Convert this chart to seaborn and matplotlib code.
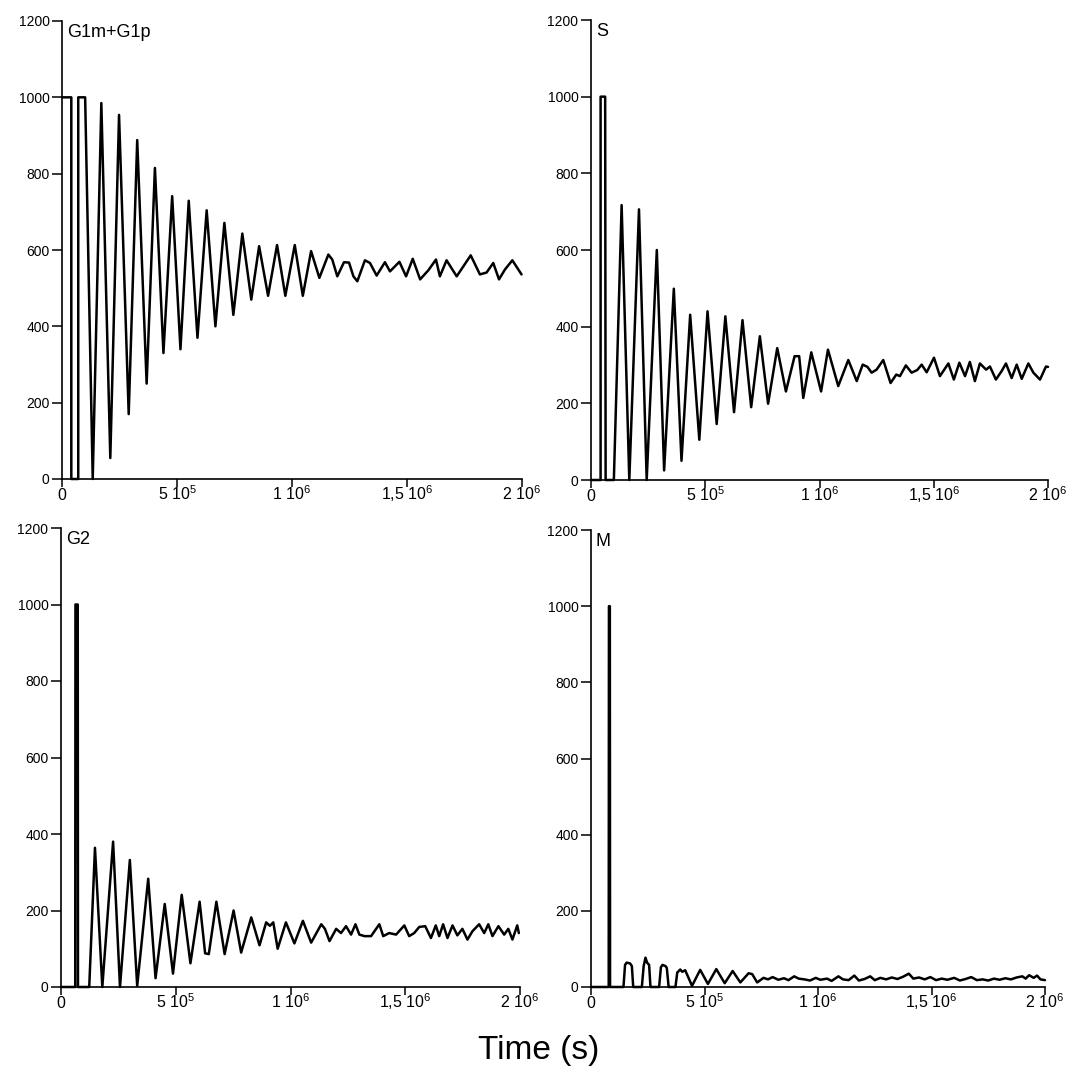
import matplotlib
matplotlib.use("Agg")
import matplotlib.pyplot as plt
import pandas as pd
import seaborn as sns

# ---- cell counts per phase over time (s) ----
g1_time = [0, 40500, 40500, 70600, 70600, 100600, 133600, 171000, 210000, 248000,
           290000, 327000, 368000, 404000, 441000, 479000, 515000, 551000, 589000,
           629000, 667000, 706000, 745000, 784000, 823000, 857000, 896000, 935000,
           971000, 1012000, 1047000, 1083000, 1119000, 1158000, 1175000, 1197000,
           1226000, 1248000, 1267000, 1284000, 1317000, 1339000, 1368000, 1404000,
           1426000, 1467000, 1496000, 1525000, 1557000, 1593000, 1626000, 1643000,
           1672000, 1716000, 1777000, 1817000, 1846000, 1875000, 1900000, 1926000,
           1958000, 1998000]
g1_value = [1000, 1000, 0, 0, 1000, 1000, 0, 985, 55, 954,
            170, 888, 250, 815, 330, 741, 340, 729, 370,
            704, 400, 671, 430, 643, 470, 610, 480, 613,
            480, 613, 480, 597, 527, 588, 575, 531,
            568, 567, 531, 518, 573, 566, 533, 568,
            544, 569, 531, 577, 523, 547, 575, 531,
            573, 531, 586, 536, 541, 566, 523, 549,
            573, 536]

s_time = [0, 42000, 42000, 62000, 64000, 100000, 134000, 167600, 210000, 243700,
          288000, 320000, 362500, 396000, 434000, 474000, 510000, 550000, 588000,
          626000, 663000, 701000, 739000, 775000, 815000, 853000, 891000, 911000,
          929000, 964000, 1007000, 1037000, 1082000, 1126000, 1163000, 1189000,
          1210000, 1228000, 1250000, 1279000, 1311000, 1336000, 1352000, 1378000,
          1403000, 1428000, 1447000, 1469000, 1501000, 1527000, 1564000, 1588000,
          1612000, 1637000, 1658000, 1680000, 1702000, 1729000, 1746000, 1772000,
          1797000, 1816000, 1841000, 1863000, 1885000, 1914000, 1936000, 1965000,
          1991000, 2000000]
s_value = [0, 0, 1000, 1000, 0, 0, 717, 0, 706, 0,
           600, 25, 499, 50, 431, 105, 440, 146, 427,
           177, 417, 190, 375, 199, 344, 231, 323, 323,
           214, 333, 231, 340, 245, 313, 258, 301,
           295, 280, 288, 313, 253, 275, 271, 299,
           280, 287, 301, 281, 319, 271, 304, 262,
           306, 271, 308, 258, 304, 288, 296, 262,
           284, 304, 266, 301, 264, 304, 280, 262,
           296, 295]

g2_time = [0, 62000, 63000, 73000, 74000, 123000, 148000, 180000, 227000,
           257000, 300000, 332000, 380000, 412000, 452000, 488000, 526000, 564000,
           604000, 628000, 644000, 677000, 713000, 752000, 785000, 829000, 865000,
           894000, 910000, 925000, 944000, 980000, 1017000, 1054000, 1090000,
           1134000, 1150000, 1170000, 1199000, 1220000, 1242000, 1264000, 1283000,
           1300000, 1322000, 1351000, 1387000, 1404000, 1430000, 1460000, 1496000,
           1517000, 1539000, 1561000, 1587000, 1612000, 1633000, 1648000, 1665000,
           1684000, 1706000, 1727000, 1749000, 1771000, 1793000, 1822000, 1844000,
           1862000, 1880000, 1906000, 1931000, 1949000, 1967000, 1988000, 1995000]
g2_value = [0, 0, 1000, 1000, 0, 0, 364, 0, 380,
            0, 332, 3, 283, 23, 217, 35, 241, 62,
            223, 88, 86, 223, 86, 200, 90, 182, 109,
            169, 160, 169, 100, 169, 114, 173, 116,
            164, 152, 120, 152, 141, 159, 137, 164,
            137, 133, 133, 164, 133, 141, 137, 161,
            133, 141, 157, 159, 128, 161, 133, 164,
            128, 161, 135, 152, 124, 146, 164, 141,
            164, 133, 159, 137, 152, 124, 161, 141]

m_time = [0, 78000, 79000, 83000, 84000, 143000, 150000, 157000, 172000, 180000,
          186000, 224000, 232000, 240000, 247000, 256000, 262000, 300000, 308000,
          315000, 328000, 334000, 342000, 372000, 380000, 393000, 402000, 415000,
          445000, 481000, 515000, 552000, 589000, 624000, 658000, 694000, 710000,
          732000, 760000, 780000, 800000, 825000, 850000, 870000, 895000, 915000,
          940000, 965000, 990000, 1010000, 1040000, 1060000, 1090000, 1110000,
          1135000, 1160000, 1180000, 1205000, 1230000, 1250000, 1275000, 1300000,
          1325000, 1350000, 1375000, 1400000, 1420000, 1445000, 1470000, 1495000,
          1520000, 1545000, 1570000, 1600000, 1625000, 1650000, 1675000, 1700000,
          1725000, 1750000, 1775000, 1800000, 1825000, 1850000, 1875000, 1900000,
          1915000, 1930000, 1950000, 1965000, 1980000, 2000000]
m_value = [0, 0, 1000, 1000, 0, 0, 58, 64, 62, 55,
           0, 0, 55, 77, 64, 58, 0, 0, 52,
           58, 55, 50, 0, 0, 38, 46, 40, 44,
           3, 45, 8, 47, 10, 42, 12, 36, 34,
           12, 24, 20, 26, 19, 23, 18, 28, 22,
           20, 17, 24, 19, 22, 16, 28, 20,
           18, 30, 17, 21, 28, 18, 24, 20,
           25, 21, 27, 35, 22, 25, 20, 26,
           18, 22, 19, 24, 17, 21, 26, 18,
           20, 17, 22, 19, 23, 20, 25, 28,
           22, 31, 24, 30, 20, 18]

panel_names = ["G1m+G1p", "S", "G2", "M"]
panel_series = [(g1_time, g1_value), (s_time, s_value),
                (g2_time, g2_value), (m_time, m_value)]

y_ticks = [0, 200, 400, 600, 800, 1000, 1200]
x_ticks = [0, 5e5, 1e6, 1.5e6, 2e6]
x_tick_labels = ["0", r"5 $10^5$", r"1 $10^6$", r"1,5 $10^6$", r"2 $10^6$"]

# ---- style ----
sns.set_style("ticks")
plt.rcParams["font.family"] = ["Liberation Sans", "DejaVu Sans"]
plt.rcParams["text.color"] = "black"
plt.rcParams["mathtext.fontset"] = "custom"
plt.rcParams["mathtext.rm"] = "Liberation Sans"
plt.rcParams["mathtext.it"] = "Liberation Sans:italic"
plt.rcParams["mathtext.bf"] = "Liberation Sans:bold"
plt.rcParams["mathtext.default"] = "regular"

W, H = 1078, 1073
fig = plt.figure(figsize=(W / 100, H / 100), dpi=100)
fig.patch.set_facecolor("white")

# axes boxes in pixels: left, right, top, bottom
boxes = [(62, 522, 21, 479), (591, 1048, 20, 480),
         (61, 520, 528, 987), (591, 1045, 530, 987)]

for (name, (t, v)), (l, r, tp, b) in zip(zip(panel_names, panel_series), boxes):
    ax = fig.add_axes([l / W, 1 - b / H, (r - l) / W, (b - tp) / H])
    df = pd.DataFrame({"time": t, "cells": v})
    sns.lineplot(data=df, x="time", y="cells", ax=ax, estimator=None,
                 sort=False, color="black", linewidth=1.8, clip_on=False,
                 solid_joinstyle="round", solid_capstyle="round")
    ax.set_xlim(0, 2e6)
    ax.set_ylim(0, 1200)
    ax.set_xticks(x_ticks)
    ax.set_xticklabels(x_tick_labels)
    ax.set_yticks(y_ticks)
    ax.set_xlabel("")
    ax.set_ylabel("")
    sns.despine(ax=ax)
    for side in ("left", "bottom"):
        ax.spines[side].set_linewidth(1.2)
        ax.spines[side].set_color("black")
    ax.tick_params(axis="y", direction="out", length=7, width=1.1, pad=2,
                   labelsize=10, colors="black")
    ax.tick_params(axis="x", direction="out", length=6, width=1.1, pad=9,
                   labelsize=11.5, colors="black")
    # keep all x labels on one baseline, whatever their glyphs
    for lbl in ax.get_xticklabels():
        lbl.set_verticalalignment("baseline")
    ax.annotate(name, xy=(0, 1), xycoords="axes fraction", xytext=(3.5, -2),
                textcoords="offset points", ha="left", va="top", fontsize=13,
                color="black")

fig.text(0.5, 1 - 1050 / H, "Time (s)", ha="center", va="center", fontsize=24,
         color="black")

fig.savefig("out.png", dpi=100, facecolor="white")
